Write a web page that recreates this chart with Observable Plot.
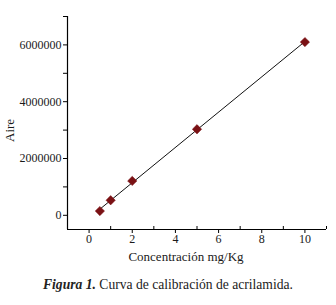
<!DOCTYPE html>
<html>
<head>
<meta charset="utf-8">
<script src="https://cdn.jsdelivr.net/npm/d3@7"></script>
<script src="https://cdn.jsdelivr.net/npm/@observablehq/plot@0.6"></script>
<style>
  body { margin: 0; background: #fff; }
  #caption { width: 336px; text-align: center; font-family: "Liberation Serif", "Times New Roman", serif; font-size: 13.6px; color: #222; margin-top: 7px; }
</style>
</head>
<body>
<div id="chart"></div>
<div id="caption"><b><i>Figura 1.</i></b> Curva de calibración de acrilamida.</div>
<script>
const concentration = [0.5, 1, 2, 5, 10];
const area = [150000, 530000, 1210000, 3030000, 6100000];
const xMajorTicks = [0, 2, 4, 6, 8, 10];
const xMinorTicks = [1, 3, 5, 7, 9, 11];
const yMajorTicks = [0, 2000000, 4000000, 6000000];
const yMinorTicks = [1000000, 3000000, 5000000, 7000000];
const xLabel = "Concentración mg/Kg";
const yLabel = "Aire";

const data = concentration.map((c, i) => ({c, a: area[i]}));

const chart = Plot.plot({
  width: 336,
  height: 270,
  marginLeft: 67,
  marginRight: 10,
  marginTop: 16,
  marginBottom: 41,
  style: {fontFamily: "'Liberation Serif', 'Times New Roman', serif", fontSize: "12px", color: "#1a1a1a", background: "#fff"},
  x: {domain: [-1, 11]},
  y: {domain: [-500000, 7000000]},
  marks: [
    Plot.ruleX([-1], {y1: -500000, y2: 7000000, stroke: "#000", strokeWidth: 1.2}),
    Plot.ruleY([-500000], {x1: -1, x2: 11, stroke: "#000", strokeWidth: 1.2}),
    Plot.axisX({ticks: xMajorTicks, tickSize: 4, tickPadding: 1, label: null, stroke: "#000"}),
    Plot.axisX({ticks: xMinorTicks, tickSize: 3, dy: -3, tickFormat: () => "", label: null, stroke: "#000"}),
    Plot.axisY({ticks: yMajorTicks, tickSize: 4, tickPadding: 2, tickFormat: d3.format("d"), label: null, stroke: "#000"}),
    Plot.axisY({ticks: yMinorTicks, tickSize: 4, tickFormat: () => "", label: null, stroke: "#000"}),
    Plot.text([xLabel], {frameAnchor: "bottom", dx: -11, dy: 31, fontSize: 13, fill: "#1a1a1a"}),
    Plot.text([yLabel], {frameAnchor: "left", dx: -58, dy: 19, rotate: -90, fontSize: 13, fill: "#1a1a1a"}),
    Plot.linearRegressionY(data, {x: "c", y: "a", ci: 0, stroke: "#111", strokeWidth: 1}),
    Plot.dot(data, {x: "c", y: "a", symbol: "diamond2", r: 4.2, fill: "#7a1114", stroke: "#7a1114", strokeWidth: 0.5})
  ]
});
document.getElementById("chart").appendChild(chart);
</script>
</body>
</html>
